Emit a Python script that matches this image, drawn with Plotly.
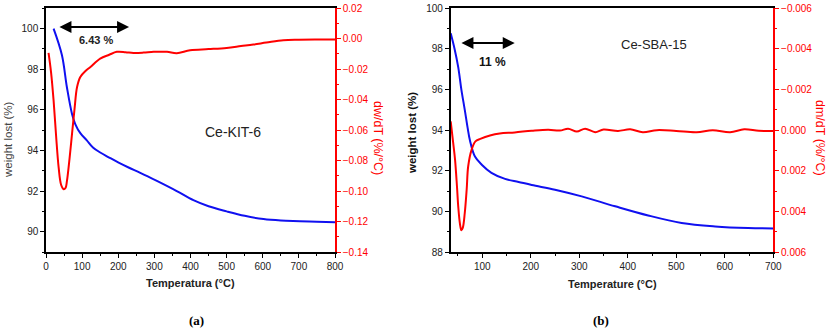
import plotly.graph_objects as go

# ---- Data: Ce-KIT-6 (panel a) ----
kit_T_w = [21, 44, 58, 72, 81, 95, 113, 130, 150, 175, 201, 230, 261, 307, 362, 408, 450, 500, 550, 602, 650, 703, 750, 800]
kit_w = [100.0, 98.7, 97.1, 95.8, 95.3, 94.85, 94.5, 94.15, 93.9, 93.65, 93.4, 93.15, 92.9, 92.5, 92.0, 91.55, 91.25, 91.0, 90.78, 90.62, 90.55, 90.52, 90.49, 90.46]
kit_T_d = [7, 14, 21, 28, 35, 42, 49, 54, 58, 65, 72, 79, 86, 95, 110, 123, 150, 175, 196, 220, 242, 270, 298, 335, 362, 399, 450, 500, 540, 574, 610, 657, 700, 749, 800]
kit_d = [-0.0093, -0.022, -0.0405, -0.064, -0.0845, -0.096, -0.0988, -0.098, -0.0933, -0.079, -0.0625, -0.046, -0.0317, -0.0251, -0.021, -0.0185, -0.013, -0.0105, -0.0086, -0.0088, -0.0093, -0.0091, -0.0086, -0.0086, -0.0095, -0.0075, -0.0068, -0.006, -0.0048, -0.0038, -0.0025, -0.0009, -0.0006, -0.0005, -0.0005]

# ---- Data: Ce-SBA-15 (panel b) ----
sba_T_w = [35, 43, 50.5, 57, 64, 70, 74.6, 85, 99, 119, 147, 175, 202, 250, 305, 374, 442, 511, 580, 648, 700]
sba_w = [98.77, 98.0, 97.1, 96.0, 95.0, 94.1, 93.5, 92.7, 92.3, 91.9, 91.6, 91.45, 91.3, 91.07, 90.74, 90.25, 89.8, 89.43, 89.26, 89.18, 89.16]
sba_T_d = [35, 40, 44, 48, 50.5, 54, 57, 60, 64, 68, 71, 78, 86, 96, 116, 136, 167, 202, 236, 260, 277, 295, 312, 333, 350, 380, 405, 431, 460, 500, 542, 575, 611, 640, 670, 700]
sba_d = [-0.00043, 0.0006, 0.00146, 0.0028, 0.00375, 0.0046, 0.00493, 0.0048, 0.00408, 0.0029, 0.00179, 0.00097, 0.00055, 0.00043, 0.00026, 0.00016, 0.00011, 0.00003, -0.00002, 0.00002, -0.00007, 0.00007, -0.00007, 0.0001, -0.00003, 0.00004, -0.00004, 0.0001, 0.0, 0.00004, 0.0001, 0.0, 0.0001, -0.00004, 0.00003, 0.00004]

BLUE = "#1010F0"
RED = "#FF0000"
FONT = "Liberation Sans, Arial, sans-serif"

fig = go.Figure()
fig.add_trace(go.Scatter(x=kit_T_w, y=kit_w, mode="lines", line=dict(color=BLUE, width=2, shape="spline"), xaxis="x", yaxis="y"))
fig.add_trace(go.Scatter(x=kit_T_d, y=kit_d, mode="lines", line=dict(color=RED, width=2, shape="spline"), xaxis="x", yaxis="y2"))
fig.add_trace(go.Scatter(x=sba_T_w, y=sba_w, mode="lines", line=dict(color=BLUE, width=2, shape="spline"), xaxis="x2", yaxis="y3"))
fig.add_trace(go.Scatter(x=sba_T_d, y=sba_d, mode="lines", line=dict(color=RED, width=2, shape="spline"), xaxis="x2", yaxis="y4"))

tickfont = dict(family=FONT, size=10, color="#222")
redfont = dict(family=FONT, size=10, color=RED)

def xax(dom, rng, anchor, dtick, tick0):
    return dict(domain=dom, range=rng, anchor=anchor, showgrid=False, zeroline=False, automargin=False,
                showline=True, linecolor="black", linewidth=1.5, mirror=True,
                ticks="outside", ticklen=4, tickcolor="black", dtick=dtick, tick0=tick0,
                minor=dict(ticks="outside", ticklen=2, tickcolor="black", dtick=dtick / 2),
                tickfont=tickfont)

def yleft(dom, rng, anchor, dtick, tick0):
    return dict(domain=dom, range=rng, anchor=anchor, showgrid=False, zeroline=False, automargin=False,
                showline=True, linecolor="black", linewidth=1.5,
                ticks="outside", ticklen=4, tickcolor="black", dtick=dtick, tick0=tick0,
                minor=dict(ticks="outside", ticklen=2, tickcolor="black", dtick=dtick / 2),
                tickfont=tickfont)

def yright(rng, overlay, anchor, dtick, tick0, fmt):
    return dict(range=rng, overlaying=overlay, anchor=anchor, side="right", showgrid=False, zeroline=False,
                automargin=False, showline=True, linecolor=RED, linewidth=1.5,
                ticks="outside", ticklen=4, tickcolor=RED, dtick=dtick, tick0=tick0, tickformat=fmt,
                minor=dict(ticks="outside", ticklen=2, tickcolor=RED, dtick=dtick / 2),
                tickfont=redfont)

ydom = [1 - 252 / 330, 1 - 8.3 / 330]
fig.update_layout(
    width=831, height=330, margin=dict(l=0, r=0, t=0, b=0, autoexpand=False),
    paper_bgcolor="white", plot_bgcolor="white", showlegend=False,
    xaxis=xax([46 / 831, 335 / 831], [0, 800], "y", 100, 0),
    yaxis=yleft(ydom, [89, 101], "x", 2, 90),
    yaxis2=yright([-0.14, 0.02], "y", "x", 0.02, -0.14, ".2f"),
    xaxis2=xax([450.7 / 831, 773.3 / 831], [35, 700], "y3", 100, 0),
    yaxis3=yleft(ydom, [88, 100], "x2", 2, 88),
    yaxis4=yright([0.006, -0.006], "y3", "x2", 0.002, -0.006, ".3f"),
)

anns = []
def px(x, y):
    return dict(x=x / 831, y=1 - y / 330, xref="paper", yref="paper", xanchor="center", yanchor="middle")

anns.append(dict(**px(8, 140), text="weight lost (%)", textangle=-90, showarrow=False,
                 font=dict(family=FONT, size=11.5, color="#444")))
anns.append(dict(**px(378, 138), text="dw/dT (%/°C)", textangle=90, showarrow=False,
                 font=dict(family=FONT, size=12.5, color=RED)))
anns.append(dict(**px(190, 283), text="<b>Temperatura (°C)</b>", showarrow=False,
                 font=dict(family=FONT, size=11, color="#222")))
anns.append(dict(**px(412, 133), text="<b>weight lost (%)</b>", textangle=-90, showarrow=False,
                 font=dict(family=FONT, size=11.5, color="#111")))
anns.append(dict(**px(820, 138), text="dm/dT (%/°C)", textangle=90, showarrow=False,
                 font=dict(family=FONT, size=12.5, color=RED)))
anns.append(dict(**px(612, 284), text="<b>Temperature (°C)</b>", showarrow=False,
                 font=dict(family=FONT, size=11, color="#222")))
anns.append(dict(**px(196, 320), text="<b>(a)</b>", showarrow=False,
                 font=dict(family="Liberation Serif, Times New Roman, serif", size=13, color="black")))
anns.append(dict(**px(601, 320), text="<b>(b)</b>", showarrow=False,
                 font=dict(family="Liberation Serif, Times New Roman, serif", size=13, color="black")))

anns.append(dict(x=518, y=94.89, xref="x", yref="y", text="Ce-KIT-6", showarrow=False,
                 font=dict(family=FONT, size=14, color="#222")))
anns.append(dict(x=454, y=98.24, xref="x2", yref="y3", text="Ce-SBA-15", showarrow=False,
                 font=dict(family=FONT, size=13, color="#222")))
anns.append(dict(x=138, y=99.44, xref="x", yref="y", text="<b>6.43 %</b>", showarrow=False,
                 font=dict(family=FONT, size=11, color="#222")))
anns.append(dict(x=122, y=97.36, xref="x2", yref="y3", text="<b>11 %</b>", showarrow=False,
                 font=dict(family=FONT, size=12, color="#111")))

anns.append(dict(x=230, y=100.08, ax=33, ay=100.08, xref="x", yref="y", axref="x", ayref="y",
                 text="", showarrow=True, arrowhead=2, startarrowhead=2, arrowside="end+start",
                 arrowwidth=2, arrowsize=1.2, startarrowsize=1.2, arrowcolor="black"))
anns.append(dict(x=167, y=98.29, ax=54, ay=98.29, xref="x2", yref="y3", axref="x2", ayref="y3",
                 text="", showarrow=True, arrowhead=2, startarrowhead=2, arrowside="end+start",
                 arrowwidth=2, arrowsize=1.2, startarrowsize=1.2, arrowcolor="black"))

fig.update_layout(annotations=anns)
fig.write_html("out.html", config={"displayModeBar": False},
               post_script="document.body.style.margin='0';")
